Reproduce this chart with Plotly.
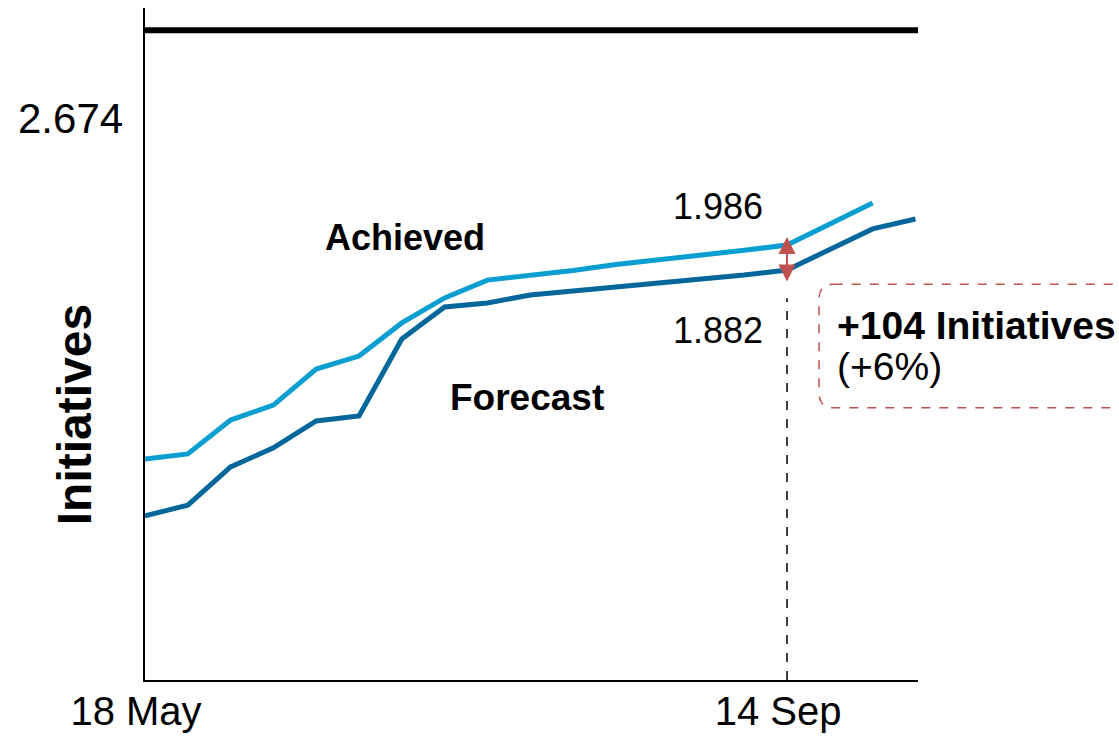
import plotly.graph_objects as go

# Weekly snapshots, week 0 = 18 May, week 15 = 14 Sep
tick_weeks = [0, 15]
tick_labels = ["18 May", "14 Sep"]
target_label = "2.674"

# Initiatives (thousands)
achieved_weeks = list(range(18))
achieved = [1.096, 1.117, 1.258, 1.320, 1.470, 1.524, 1.662, 1.766, 1.840,
            1.859, 1.880, 1.905, 1.923, 1.946, 1.964, 1.986, 2.073, 2.161]
forecast_weeks = list(range(19))
forecast = [0.859, 0.904, 1.063, 1.142, 1.254, 1.275, 1.595, 1.728, 1.745,
            1.778, 1.795, 1.811, 1.828, 1.845, 1.861, 1.882, 1.969, 2.053, 2.094]

ref_week = 15
LIGHT = "#0A9FD0"
DARK = "#03679B"
RED = "#C0504D"
FONT = "Liberation Sans, Arial, sans-serif"

a_val = achieved[achieved_weeks.index(ref_week)]
f_val = forecast[forecast_weeks.index(ref_week)]
gap = round((a_val - f_val) * 1000)
gap_pct = round(100 * (a_val - f_val) / f_val)

fig = go.Figure()
fig.add_trace(go.Scatter(x=achieved_weeks, y=achieved, mode="lines",
                         line=dict(color=LIGHT, width=5), name="Achieved"))
fig.add_trace(go.Scatter(x=forecast_weeks, y=forecast, mode="lines",
                         line=dict(color=DARK, width=5), name="Forecast"))

# target line at the top of the chart
fig.add_shape(type="line", xref="paper", yref="paper", x0=0, x1=1,
              y0=0.967, y1=0.967, line=dict(color="black", width=6))
# dashed marker for the reference date
fig.add_shape(type="line", xref="x", yref="paper", x0=ref_week, x1=ref_week,
              y0=0, y1=0.568, line=dict(color="black", width=1.5, dash="dash"))

# rounded dashed callout box
x0, x1, y0, y1 = 0.872, 1.30, 0.405, 0.589
rx, ry = 0.019, 0.022
path = (f"M {x0+rx},{y1} L {x1-rx},{y1} Q {x1},{y1} {x1},{y1-ry} "
        f"L {x1},{y0+ry} Q {x1},{y0} {x1-rx},{y0} L {x0+rx},{y0} "
        f"Q {x0},{y0} {x0},{y0+ry} L {x0},{y1-ry} Q {x0},{y1} {x0+rx},{y1} Z")
fig.add_shape(type="path", xref="paper", yref="paper", path=path,
              line=dict(color=RED, width=1.5, dash="dash"))

# double-headed gap arrow
fig.add_annotation(x=ref_week, y=a_val, xref="x", yref="y", text="",
                   showarrow=True, ax=0, ay=46, yshift=8,
                   arrowside="end+start", arrowhead=2, arrowsize=1.7,
                   arrowwidth=2, arrowcolor=RED, standoff=0, startstandoff=0)

fig.add_annotation(x=ref_week, y=a_val, xref="x", yref="y",
                   text=f"{a_val:.3f}", showarrow=False, xanchor="right",
                   yanchor="middle", xshift=-22, yshift=39,
                   font=dict(size=36, color="black", family=FONT))
fig.add_annotation(x=ref_week, y=f_val, xref="x", yref="y",
                   text=f"{f_val:.3f}", showarrow=False, xanchor="right",
                   yanchor="middle", xshift=-22, yshift=-60,
                   font=dict(size=36, color="black", family=FONT))

# callout text, two lines
fig.add_annotation(xref="paper", yref="paper", x=0.893, y=0.528,
                   xanchor="left", yanchor="middle", showarrow=False,
                   text=f"<b>+{gap} Initiatives</b>",
                   font=dict(size=39, color="black", family=FONT))
fig.add_annotation(xref="paper", yref="paper", x=0.893, y=0.467,
                   xanchor="left", yanchor="middle", showarrow=False,
                   text=f"(+{gap_pct}%)",
                   font=dict(size=39, color="black", family=FONT))

fig.add_annotation(xref="paper", yref="paper", x=0.336, y=0.658,
                   xanchor="center", yanchor="middle",
                   text="<b>Achieved</b>", showarrow=False,
                   font=dict(size=36, color="black", family=FONT))
fig.add_annotation(xref="paper", yref="paper", x=0.494, y=0.420,
                   xanchor="center", yanchor="middle",
                   text="<b>Forecast</b>", showarrow=False,
                   font=dict(size=37, color="black", family=FONT))

fig.add_annotation(xref="paper", yref="paper", x=0, y=0.835, xanchor="right",
                   yanchor="middle", xshift=-20, text=target_label, showarrow=False,
                   font=dict(size=42, color="black", family=FONT))
fig.add_annotation(xref="paper", yref="paper", x=-0.0918, y=0.394,
                   xanchor="center", yanchor="middle",
                   text="<b>Initiatives</b>", textangle=-90, showarrow=False,
                   font=dict(size=48, color="black", family=FONT))

fig.update_layout(
    width=1119, height=739,
    margin=dict(l=145, r=201, t=8, b=59),
    paper_bgcolor="white", plot_bgcolor="white",
    showlegend=False,
    font=dict(family=FONT, color="black"),
    xaxis=dict(range=[0, 18.06], showgrid=False, zeroline=False,
               showline=True, linecolor="black", linewidth=2,
               tickmode="array", tickvals=tick_weeks, ticktext=tick_labels,
               ticks="", ticklabelshift=-9, ticklabelstandoff=-5,
               tickfont=dict(size=40), automargin=False),
    yaxis=dict(range=[0.1765, 2.972], showgrid=False, zeroline=False,
               showline=True, linecolor="black", linewidth=2,
               showticklabels=False, ticks="", automargin=False),
)

fig.write_html("out.html")
